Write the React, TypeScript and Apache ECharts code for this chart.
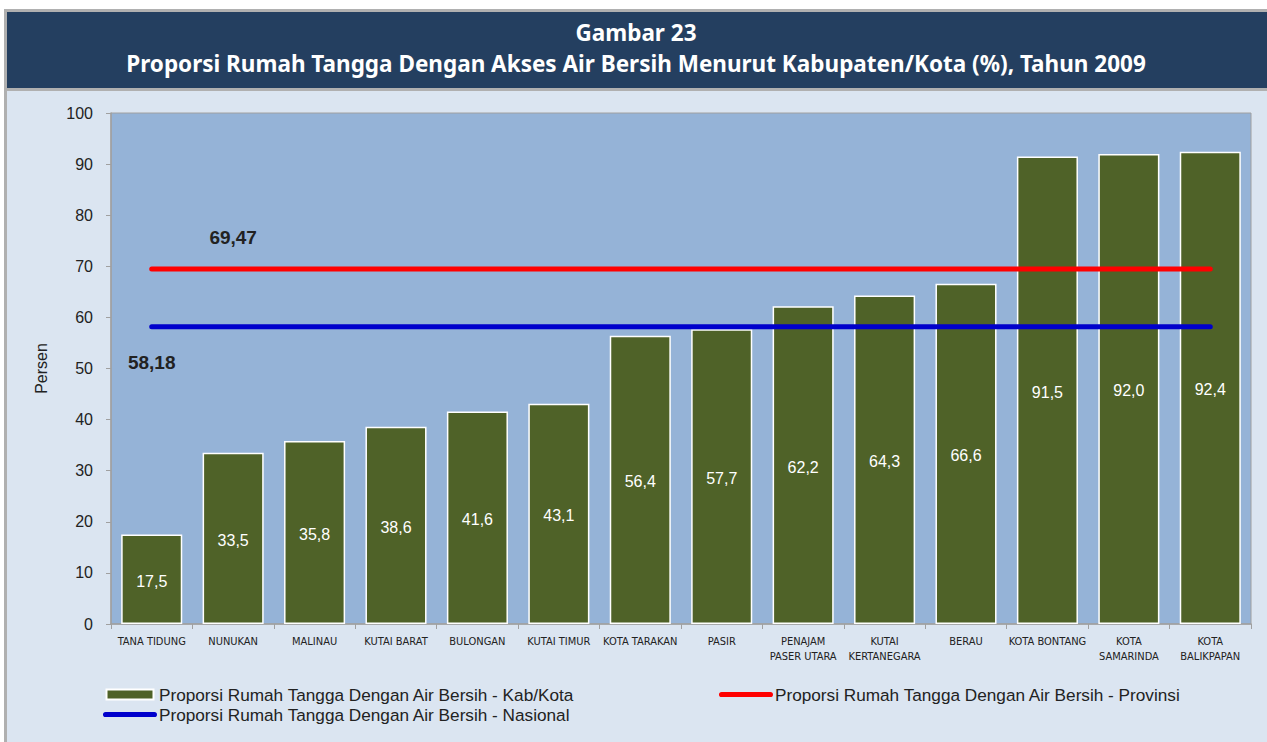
import React, { useEffect, useRef } from "react";
import * as echarts from "echarts";

const categories = [
  "TANA TIDUNG",
  "NUNUKAN",
  "MALINAU",
  "KUTAI BARAT",
  "BULONGAN",
  "KUTAI TIMUR",
  "KOTA TARAKAN",
  "PASIR",
  "PENAJAM\nPASER UTARA",
  "KUTAI\nKERTANEGARA",
  "BERAU",
  "KOTA BONTANG",
  "KOTA\nSAMARINDA",
  "KOTA\nBALIKPAPAN",
];
const kabKotaValues = [17.5, 33.5, 35.8, 38.6, 41.6, 43.1, 56.4, 57.7, 62.2, 64.3, 66.6, 91.5, 92.0, 92.4];
const provinsiValues = [69.47, 69.47, 69.47, 69.47, 69.47, 69.47, 69.47, 69.47, 69.47, 69.47, 69.47, 69.47, 69.47, 69.47];
const nasionalValues = [58.18, 58.18, 58.18, 58.18, 58.18, 58.18, 58.18, 58.18, 58.18, 58.18, 58.18, 58.18, 58.18, 58.18];
const yTicks = { min: 0, max: 100, interval: 10 };

const nameBar = "Proporsi Rumah Tangga Dengan Air Bersih - Kab/Kota";
const nameProv = "Proporsi Rumah Tangga Dengan Air Bersih - Provinsi";
const nameNas = "Proporsi Rumah Tangga Dengan Air Bersih - Nasional";
const titleLine1 = "Gambar 23";
const titleLine2 = "Proporsi Rumah Tangga Dengan Akses Air Bersih Menurut Kabupaten/Kota (%), Tahun 2009";

const fmt = (v: number, d: number) => v.toFixed(d).replace(".", ",");
const lineIcon = "path://M2.5,0 L49.5,0 A2.5,2.5 0 0 1 49.5,5 L2.5,5 A2.5,2.5 0 0 1 2.5,0 Z";
const barIcon = "path://M0,0 L47,0 L47,10 L0,10 Z";

export default function App() {
  const ref = useRef<HTMLDivElement>(null);
  useEffect(() => {
    if (!ref.current) return;
    const chart = echarts.init(ref.current, undefined, { renderer: "svg" });
    const font = "'Liberation Sans', Arial, sans-serif";
    const legendText = { fontSize: 17.2, color: "#222", fontFamily: font, padding: [0, 0, 0, -3] };
    const titleStyle = {
      color: "#ffffff",
      fontSize: 22.5,
      lineHeight: 30,
      fontWeight: "bold",
      fontFamily: "'Noto Sans', sans-serif",
    };
    chart.setOption({
      animation: false,
      backgroundColor: "#ffffff",
      textStyle: { fontFamily: font },
      graphic: [
        { type: "rect", z: -10, silent: true, shape: { x: 4, y: 9, width: 1263, height: 733 }, style: { fill: "#B0B0B0" } },
        { type: "rect", z: -9, silent: true, shape: { x: 7, y: 12, width: 1260, height: 76 }, style: { fill: "#243F60" } },
        { type: "rect", z: -9, silent: true, shape: { x: 7, y: 91, width: 1260, height: 651 }, style: { fill: "#DBE5F1" } },
      ],
      title: [
        { text: titleLine1, left: 636, top: 17, padding: 0, textAlign: "center", textStyle: titleStyle },
        { text: titleLine2, left: 636, top: 48, padding: 0, textAlign: "center", textStyle: titleStyle },
      ],
      grid: {
        left: 111,
        right: 16,
        top: 113,
        bottom: 118,
        show: true,
        backgroundColor: "#95B3D7",
        borderColor: "#A0A0A0",
        borderWidth: 1,
      },
      legend: [
        {
          left: 98,
          top: 681,
          orient: "vertical",
          itemWidth: 54,
          itemHeight: 10,
          itemGap: 3,
          symbolKeepAspect: true,
          textStyle: legendText,
          data: [
            { name: nameBar, icon: barIcon },
            { name: nameNas, icon: lineIcon },
          ],
        },
        {
          left: 714,
          top: 681,
          orient: "vertical",
          itemWidth: 54,
          itemHeight: 10,
          symbolKeepAspect: true,
          textStyle: legendText,
          data: [{ name: nameProv, icon: lineIcon }],
        },
      ],
      xAxis: {
        type: "category",
        data: categories,
        axisLine: { lineStyle: { color: "#A0A0A0", width: 1.5 } },
        axisTick: { show: true, length: 5, lineStyle: { color: "#A0A0A0" } },
        axisLabel: {
          interval: 0,
          color: "#222",
          fontSize: 11,
          lineHeight: 15,
          margin: 10,
          fontFamily: "'Liberation Sans Narrow', 'DejaVu Sans Condensed', sans-serif",
        },
      },
      yAxis: {
        type: "value",
        min: yTicks.min,
        max: yTicks.max,
        interval: yTicks.interval,
        name: "Persen",
        nameLocation: "middle",
        nameGap: 62,
        nameTextStyle: { fontSize: 16, color: "#222", fontFamily: font },
        splitLine: { show: false },
        axisLine: { show: true, lineStyle: { color: "#A0A0A0", width: 1.5 } },
        axisTick: { show: true, length: 5, lineStyle: { color: "#A0A0A0" } },
        axisLabel: { fontSize: 16, color: "#222", margin: 18, fontFamily: font },
      },
      series: [
        {
          name: nameBar,
          type: "bar",
          data: kabKotaValues,
          barCategoryGap: "25%",
          itemStyle: { color: "#4F6228", borderColor: "#ffffff", borderWidth: 1.5 },
          label: {
            show: true,
            position: "inside",
            offset: [0, 2],
            color: "#ffffff",
            fontSize: 16,
            fontFamily: font,
            formatter: (p: any) => fmt(p.value, 1),
          },
          z: 2,
        },
        {
          name: nameProv,
          type: "line",
          data: provinsiValues.map((v, i) =>
            i === 1 ? { value: v, label: { show: true, position: "top", distance: 22 } } : v
          ),
          symbol: "circle",
          symbolSize: 0,
          showSymbol: true,
          color: "#FF0000",
          lineStyle: { color: "#FF0000", width: 5, cap: "round" },
          itemStyle: { color: "#FF0000" },
          label: {
            show: false,
            fontSize: 19,
            fontWeight: "bold",
            color: "#222",
            fontFamily: font,
            formatter: (p: any) => fmt(p.value, 2),
          },
          z: 3,
        },
        {
          name: nameNas,
          type: "line",
          data: nasionalValues.map((v, i) =>
            i === 0 ? { value: v, label: { show: true, position: "bottom", distance: 26 } } : v
          ),
          symbol: "circle",
          symbolSize: 0,
          showSymbol: true,
          color: "#0000CC",
          lineStyle: { color: "#0000CC", width: 5, cap: "round" },
          itemStyle: { color: "#0000CC" },
          label: {
            show: false,
            fontSize: 19,
            fontWeight: "bold",
            color: "#222",
            fontFamily: font,
            formatter: (p: any) => fmt(p.value, 2),
          },
          z: 3,
        },
      ],
    });
    return () => chart.dispose();
  }, []);
  return (
    <div
      ref={ref}
      style={{ position: "absolute", left: 0, top: 0, width: 1267, height: 742 }}
    />
  );
}
